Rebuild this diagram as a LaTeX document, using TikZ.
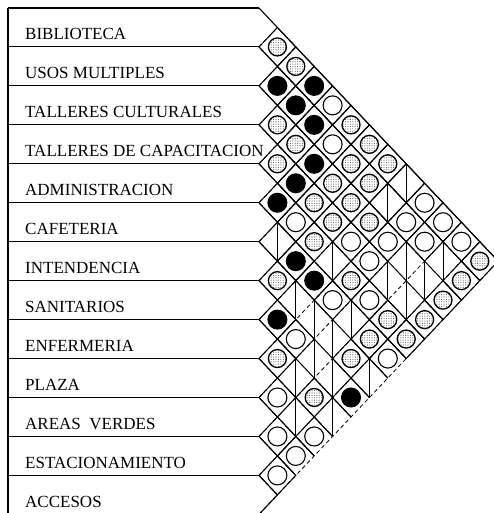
\documentclass[tikz,border=0pt]{standalone}
\usepackage{fontspec}
\setmainfont{Liberation Serif}
\usetikzlibrary{patterns.meta}

\newcommand{\cw}{18.4}    % half width of a cell
\newcommand{\chh}{19.475} % half height of a cell
\newcommand{\xo}{259}     % left corner of the matrix
\newcommand{\yo}{8}       % top rule
\newcommand{\cellbox}[1]{\draw[cell] (#1) ++(-\cw,0) -- ++(\cw,-\chh) -- ++(\cw,\chh) -- ++(-\cw,\chh) -- cycle;}
\newcommand{\cellopen}[1]{\draw[cell] (#1) ++(0,\chh) -- ++(-\cw,-\chh) -- ++(\cw,-\chh) -- ++(\cw,\chh);}

\begin{document}
\begin{tikzpicture}[x=1pt, y=-1pt,
  area/.style={anchor=base west, inner sep=0pt, font=\fontsize{17}{20}\selectfont},
  rule/.style={line width=1.1pt},
  cell/.style={line width=1pt},
  cellgap/.style={line width=0.8pt, dash pattern=on 4pt off 3pt},
  strong/.style={fill=black, line width=1pt},
  weak/.style={fill=white, line width=1.1pt},
  medium/.style={line width=1.3pt, pattern={Dots[distance=2.4pt, radius=0.55pt]}, pattern color=black!65}]

  \useasboundingbox (0,0) rectangle (494,513);

  % cell centres
  \foreach \i in {1,...,12}{
    \pgfmathtruncatemacro{\jn}{\i+1}
    \foreach \j in {\jn,...,13}
      \coordinate (c\i-\j) at ({\xo+(\j-\i)*\cw}, {\yo+(\i+\j-1)*\chh});
  }
  \foreach \k in {0,...,13}{
    \coordinate (w\k) at (8, {\yo+2*\k*\chh});
    \coordinate (v\k) at (\xo, {\yo+2*\k*\chh});
  }

  % row labels
  \foreach \k/\t in {1/BIBLIOTECA, 2/USOS MULTIPLES, 3/TALLERES CULTURALES,
      4/TALLERES DE CAPACITACION, 5/ADMINISTRACION, 6/CAFETERIA, 7/INTENDENCIA,
      8/SANITARIOS, 9/ENFERMERIA, 10/PLAZA, 11/AREAS\ \ VERDES,
      12/ESTACIONAMIENTO, 13/ACCESOS}
    \node[area] (area\k) at (25, {\yo+2*\k*\chh-7}) {\t};

  % rows
  \draw[rule] (8,513) -- (w0);
  \foreach \k in {0,...,12}
    \draw[rule] (w\k) -- (v\k);

  % grid
  \foreach \m in {1,...,13}
    \draw[cellgap] (v\m) -- ++({\m*\cw}, {-\m*\chh});
  \foreach \m in {1,...,12}
    \draw[cell] (v\m) -- ++({(13-\m)*\cw}, {(13-\m)*\chh});
  \draw[rule] (v0) -- ++({13*\cw}, {13*\chh});
  \draw[rule] (v13) -- ++(\cw, -\chh);

  % empty cells
  \foreach \p in {1-9, 2-9, 6-7}
    \cellbox{c\p}
  \foreach \p in {1-9, 2-9, 6-7, 5-9, 3-11, 2-12, 4-11, 3-12, 7-9, 4-12, 7-10,
      6-11, 7-11, 8-11, 9-11, 8-12, 7-13, 10-12, 9-13}
    \draw[cell] (c\p) ++(0,-\chh) -- ++(0, {2*\chh});

  % marked cells
  \foreach \p in {1-4, 2-3, 2-4, 2-5, 3-6, 4-6, 5-6, 6-8, 6-9, 8-9}{
    \cellbox{c\p}
    \draw[strong] (c\p) circle (9.5);
  }
  \foreach \p in {1-5, 2-6, 1-10, 5-7, 2-10, 1-11, 4-9, 3-10, 2-11, 1-12, 4-10,
      6-10, 5-11, 8-10, 10-11, 11-12, 12-13}{
    \cellbox{c\p}
    \draw[weak] (c\p) circle (9.5);
  }
  \foreach \p in {1-2, 1-3, 3-4, 1-6, 3-5, 1-7, 4-5, 2-7, 1-8, 3-7, 2-8, 4-7,
      3-8, 4-8, 3-9, 5-8, 1-13, 7-8, 5-10, 2-13, 3-13, 5-12, 4-13, 6-12, 5-13,
      9-10, 7-12, 9-12}{
    \cellbox{c\p}
    \draw[medium] (c\p) circle (9);
  }

  % lower edge of the matrix
  \cellopen{c8-13}
  \draw[strong] (c8-13) circle (9.5);
  \foreach \p in {6-13, 10-13, 11-13}{
    \cellopen{c\p}
    \draw[weak] (c\p) circle (9.5);
  }
\end{tikzpicture}
\end{document}
